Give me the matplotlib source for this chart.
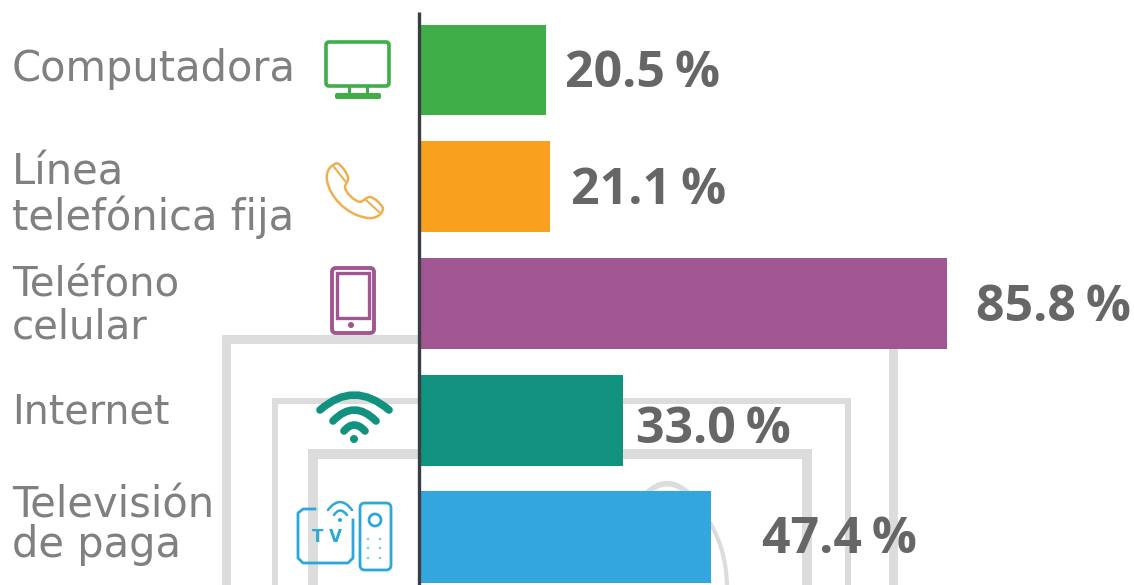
import numpy as np
import matplotlib
matplotlib.use("Agg")
import matplotlib.pyplot as plt
from matplotlib.patches import FancyBboxPatch, Rectangle, Circle, PathPatch
from matplotlib.path import Path

categories = ["Computadora", "Línea\ntelefónica fija", "Teléfono\ncelular", "Internet", "Televisión\nde paga"]
values = [20.5, 21.1, 85.8, 33.0, 47.4]
bar_colors = ["#3fae49", "#f9a01f", "#a05691", "#11927f", "#33a6de"]

# where the texts sit, in pixels
label_y = [69, 195, 306, 412, 525]
label_gap = [1.0, 1.07, 1.07, 1.0, 0.92]
label_size = [30, 30, 29, 28.5, 30]
value_x = [565, 571, 976, 636, 762]
value_y = [74, 191, 308, 430, 540]

W, H = 1134, 585
fig = plt.figure(figsize=(W / 100, H / 100), dpi=100, facecolor="white")


def curve(axes, x0, y0, cx, cy, x1, y1, color, lw):
    p = Path([(x0, y0), (cx, cy), (x1, y1)], [Path.MOVETO, Path.CURVE3, Path.CURVE3])
    axes.add_patch(PathPatch(p, fill=False, ec=color, lw=lw, capstyle="round"))


# pixel axes under the bars, for the watermark
bg = fig.add_axes([0, 0, 1, 1], zorder=0)
bg.set_xlim(0, W)
bg.set_ylim(H, 0)
bg.axis("off")

wm = "#dcdcdc"
for x0, y0, x1, t in [(222, 335, 898, 9), (272, 398, 851, 6), (308, 449, 812, 10)]:
    bg.add_patch(Rectangle((x0, y0), x1 - x0, t, color=wm, lw=0))
    bg.add_patch(Rectangle((x0, y0), t, H - y0, color=wm, lw=0))
    bg.add_patch(Rectangle((x1 - t, y0), t, H - y0, color=wm, lw=0))
curve(bg, 645, 495, 667, 472, 690, 495, wm, 4)
curve(bg, 705, 515, 726, 545, 727, 585, wm, 3)

# bars
ax = fig.add_axes([0, 0, 1, 1], zorder=1)
ax.patch.set_alpha(0)
scale = (947 - 420) / 85.8
step = 116.75
ax.set_xlim(-420 / scale, (W - 420) / scale)
ax.set_ylim((H - 70) / step, -70 / step)
ypos = np.arange(len(values))
ax.barh(ypos, values, height=91 / step, color=bar_colors)
ax.axis("off")

# texts and icons on top
fg = fig.add_axes([0, 0, 1, 1], zorder=2)
fg.patch.set_alpha(0)
fg.set_xlim(0, W)
fg.set_ylim(H, 0)
fg.axis("off")

fg.plot([419, 419], [12, H], color="#3b3d45", lw=2.4, solid_capstyle="butt")

for name, y, gap, size in zip(categories, label_y, label_gap, label_size):
    fg.text(12, y, name, ha="left", va="center", fontsize=size, color="#808080",
            family="DejaVu Sans", linespacing=gap)

for v, x, y in zip(values, value_x, value_y):
    fg.text(x, y, f"{v:.1f}\u2009%", ha="left", va="center", fontsize=36,
            color="#666666", family="Open Sans", fontweight="bold")

# computer
c = bar_colors[0]
fg.add_patch(FancyBboxPatch((326, 42), 63, 44, boxstyle="round,pad=0,rounding_size=3",
                            fill=False, ec=c, lw=2.6))
fg.add_patch(Rectangle((348, 86), 3, 8, color=c, lw=0))
fg.add_patch(Rectangle((366, 86), 3, 8, color=c, lw=0))
fg.add_patch(FancyBboxPatch((335, 93), 46, 6, boxstyle="round,pad=0,rounding_size=2", color=c, lw=0))

# handset
c = "#eeb04f"
verts = [(337, 163),
         (329, 166), (326, 172), (327, 180),
         (329, 195), (345, 215), (368, 218),
         (376, 219), (383, 214), (383, 208),
         (380, 203), (375, 198), (370, 197),
         (366, 197), (364, 201), (360, 202),
         (354, 201), (345, 192), (345, 187),
         (345, 184), (349, 181), (348, 177),
         (346, 171), (341, 165), (337, 163)]
fg.add_patch(PathPatch(Path(verts, [Path.MOVETO] + [Path.CURVE4] * 24),
                       fill=False, ec=c, lw=1.8))
fg.plot([334, 345], [167, 181], color=c, lw=1.5)
fg.plot([366, 379], [200, 212], color=c, lw=1.5)

# mobile
c = bar_colors[2]
fg.add_patch(FancyBboxPatch((332, 268), 42, 65, boxstyle="round,pad=0,rounding_size=4",
                            fill=False, ec=c, lw=2.8))
fg.add_patch(Rectangle((337, 273), 32, 45, fill=False, ec=c, lw=2.4))
fg.add_patch(Circle((351, 325), 3, color=c, lw=0))

# wifi
c = bar_colors[3]
curve(fg, 320, 410, 354, 380, 389, 410, c, 5.5)
curve(fg, 333, 421, 354, 399, 376, 421, c, 5.5)
curve(fg, 344, 431, 354, 419, 365, 431, c, 5.5)
fg.add_patch(Circle((354, 439), 4, color=c, lw=0))

# tv and remote
c = "#2ba8d8"
fg.plot([315, 303, 298, 298, 303, 348, 353, 353],
        [509, 509, 513, 558, 563, 563, 558, 520], color=c, lw=2)
fg.add_patch(FancyBboxPatch((360, 503), 31, 67, boxstyle="round,pad=0,rounding_size=5",
                            fill=False, ec=c, lw=2))
fg.add_patch(Circle((375, 520), 6, fill=False, ec=c, lw=2))
for xd in [368, 380]:
    for yd in [539, 548, 558]:
        fg.add_patch(Circle((xd, yd), 1.3, color=c, alpha=0.6, lw=0))
fg.text(327, 537, "T V", ha="center", va="center", fontsize=12, color=c,
        family="DejaVu Sans", fontweight="bold")
curve(fg, 328, 510, 340, 494, 352, 510, c, 1.8)
curve(fg, 334, 515, 340, 506, 347, 515, c, 1.8)
fg.add_patch(Circle((340, 520), 2, color=c, lw=0))

fig.savefig("out.png", dpi=100)
